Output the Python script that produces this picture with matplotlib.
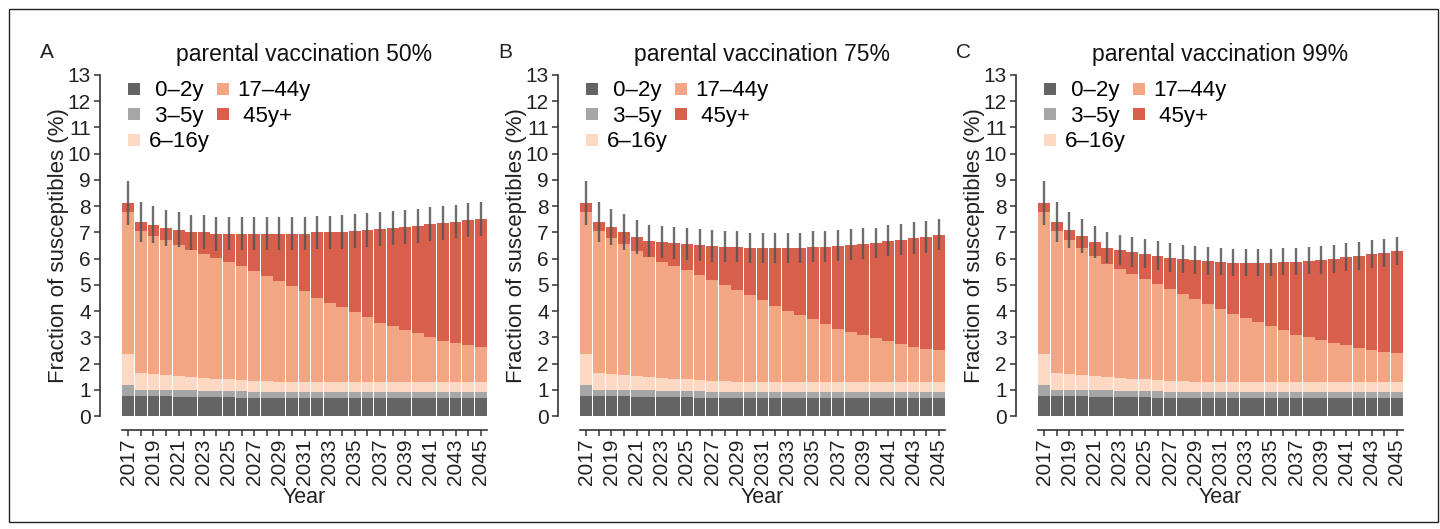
import matplotlib
matplotlib.use("Agg")
import matplotlib.pyplot as plt
from matplotlib.lines import Line2D
from matplotlib.patches import Rectangle
import numpy as np

plt.rcParams['font.family'] = ['Liberation Sans', 'DejaVu Sans']

years = list(range(2017, 2046))
groups = [' 0\u20132y', ' 3\u20135y', '6\u201316y', '17\u201344y', ' 45y+']
colors = ['#646464', '#a6a6a6', '#fdd9c4', '#f3a683', '#d95f4d']
titles = ['parental vaccination 50%', 'parental vaccination 75%', 'parental vaccination 99%']
letters = ['A', 'B', 'C']

# children's groups are the same in every scenario (% of population)
age_0_2 = [0.76, 0.76, 0.76, 0.76, 0.725, 0.725, 0.725, 0.725, 0.725, 0.69,
           0.69, 0.69, 0.69, 0.69, 0.69, 0.69, 0.69, 0.69, 0.69, 0.69,
           0.69, 0.69, 0.69, 0.69, 0.69, 0.69, 0.69, 0.69, 0.69]
age_3_5 = [0.42, 0.23, 0.23, 0.23, 0.265, 0.265, 0.225, 0.225, 0.225, 0.26,
           0.23, 0.23, 0.23, 0.23, 0.23, 0.23, 0.23, 0.23, 0.23, 0.23,
           0.23, 0.23, 0.23, 0.23, 0.23, 0.23, 0.23, 0.23, 0.23]
age_6_16 = [1.19, 0.65, 0.61, 0.57, 0.54, 0.50, 0.50, 0.46, 0.46, 0.42,
            0.42, 0.42, 0.38, 0.38, 0.38, 0.38, 0.38, 0.38, 0.38, 0.38,
            0.38, 0.38, 0.38, 0.38, 0.38, 0.38, 0.38, 0.38, 0.38]

# adults, one list per scenario
age_17_44_50 = [5.42, 5.42, 5.27, 5.16, 5.00, 4.85, 4.73, 4.62, 4.47, 4.36,
                4.19, 4.00, 3.85, 3.66, 3.47, 3.20, 3.01, 2.86, 2.67, 2.48,
                2.25, 2.14, 1.98, 1.87, 1.72, 1.56, 1.48, 1.41, 1.33]
age_45_50 = [0.34, 0.34, 0.42, 0.46, 0.57, 0.66, 0.82, 0.92, 1.07, 1.22,
             1.42, 1.61, 1.80, 1.99, 2.18, 2.50, 2.69, 2.86, 3.09, 3.32,
             3.59, 3.74, 3.93, 4.08, 4.30, 4.50, 4.63, 4.76, 4.88]
err_50 = [0.83, 0.75, 0.71, 0.69, 0.675, 0.66, 0.645, 0.645, 0.64, 0.64,
          0.64, 0.64, 0.64, 0.64, 0.64, 0.64, 0.64, 0.645, 0.645, 0.645,
          0.645, 0.65, 0.65, 0.65, 0.64, 0.655, 0.64, 0.645, 0.655]

age_17_44_75 = [5.42, 5.42, 5.19, 5.00, 4.77, 4.57, 4.43, 4.32, 4.16, 4.01,
                3.85, 3.66, 3.51, 3.32, 3.13, 2.90, 2.71, 2.55, 2.40, 2.21,
                2.02, 1.91, 1.79, 1.68, 1.56, 1.45, 1.33, 1.26, 1.22]
age_45_75 = [0.34, 0.34, 0.42, 0.46, 0.53, 0.62, 0.76, 0.87, 0.99, 1.15,
             1.30, 1.45, 1.64, 1.79, 1.98, 2.21, 2.40, 2.56, 2.75, 2.94,
             3.17, 3.32, 3.47, 3.62, 3.82, 3.97, 4.16, 4.27, 4.39]
err_75 = [0.83, 0.75, 0.70, 0.675, 0.64, 0.62, 0.62, 0.61, 0.605, 0.605,
          0.60, 0.59, 0.585, 0.585, 0.57, 0.57, 0.57, 0.58, 0.585, 0.59,
          0.585, 0.585, 0.59, 0.585, 0.585, 0.59, 0.60, 0.60, 0.60]

age_17_44_99 = [5.42, 5.42, 5.12, 4.85, 4.58, 4.31, 4.16, 4.01, 3.82, 3.67,
                3.51, 3.32, 3.17, 2.97, 2.78, 2.59, 2.44, 2.29, 2.14, 1.98,
                1.79, 1.72, 1.60, 1.49, 1.41, 1.30, 1.22, 1.14, 1.10]
age_45_99 = [0.34, 0.34, 0.38, 0.46, 0.53, 0.61, 0.73, 0.84, 0.95, 1.07,
             1.18, 1.33, 1.48, 1.65, 1.80, 1.95, 2.10, 2.25, 2.40, 2.60,
             2.79, 2.90, 3.05, 3.20, 3.36, 3.51, 3.66, 3.78, 3.90]
err_99 = [0.83, 0.75, 0.69, 0.64, 0.60, 0.59, 0.57, 0.565, 0.555, 0.555,
          0.55, 0.545, 0.54, 0.53, 0.52, 0.515, 0.515, 0.515, 0.52, 0.52,
          0.52, 0.52, 0.53, 0.535, 0.53, 0.535, 0.535, 0.54, 0.54]

scenarios = [
    (age_17_44_50, age_45_50, err_50),
    (age_17_44_75, age_45_75, err_75),
    (age_17_44_99, age_45_99, err_99),
]

W, H = 1440, 529
fig = plt.figure(figsize=(W / 100, H / 100), dpi=100)
lefts = [122, 580, 1038]
ax_w = 365
y_top, y_zero = 75, 416

for p, (adult, old, err) in enumerate(scenarios):
    ax = fig.add_axes([lefts[p] / W, (H - y_zero) / H, ax_w / W, (y_zero - y_top) / H])
    x = np.arange(len(years))
    stack = [age_0_2, age_3_5, age_6_16, adult, old]
    bottom = np.zeros(len(years))
    for vals, c in zip(stack, colors):
        ax.bar(x, vals, width=0.94, bottom=bottom, color=c, linewidth=0)
        bottom = bottom + np.array(vals)
    ax.errorbar(x, bottom, yerr=err, fmt='none', ecolor='#555555', elinewidth=1.7, alpha=0.85)

    ax.set_xlim(-0.5, len(years) - 0.5)
    ax.set_ylim(0, 13)
    ax.set_yticks(range(14))
    ax.set_xticks(x)
    ax.set_xticklabels([str(y) if (y - 2017) % 2 == 0 else '' for y in years])
    ax.tick_params(axis='both', labelsize=15, length=4.5, width=1.1, color='#333333',
                   labelcolor='#222222', pad=2)
    ax.tick_params(axis='x', labelrotation=90)
    for s in ['top', 'right']:
        ax.spines[s].set_visible(False)
    ax.spines['left'].set_position(('outward', 16))
    ax.spines['bottom'].set_position(('outward', 10))
    ax.spines['left'].set_bounds(0, 13)
    for s in ['left', 'bottom']:
        ax.spines[s].set_linewidth(1.2)
        ax.spines[s].set_color('#333333')
    ax.set_ylabel('Fraction of susceptibles (%)', fontsize=16, color='#222222', labelpad=-1)
    ax.set_xlabel('Year', fontsize=15.5, color='#222222', labelpad=1)
    ax.set_title(titles[p], fontsize=16.5, pad=10, color='#111111')
    ax.text(-82 / ax_w, 1.0 + 17 / (y_zero - y_top), letters[p], transform=ax.transAxes,
            fontsize=15, va='baseline', color='#222222')

    handles = [Line2D([0], [0], marker='s', color='w', markerfacecolor=c, markeredgewidth=0,
                      markersize=8.5) for c in colors]
    ax.legend(handles, groups, loc='upper left', bbox_to_anchor=(-0.015, 1.01), ncol=2,
              frameon=False, fontsize=16, handlelength=0.8, handletextpad=0.25,
              columnspacing=0.2, labelspacing=0.2, borderaxespad=0)

fig.patches.append(Rectangle((9 / W, 7 / H), 1429 / W, 513 / H, transform=fig.transFigure,
                             fill=False, edgecolor='#222222', linewidth=1))

fig.savefig('out.png', dpi=100, facecolor='white')
